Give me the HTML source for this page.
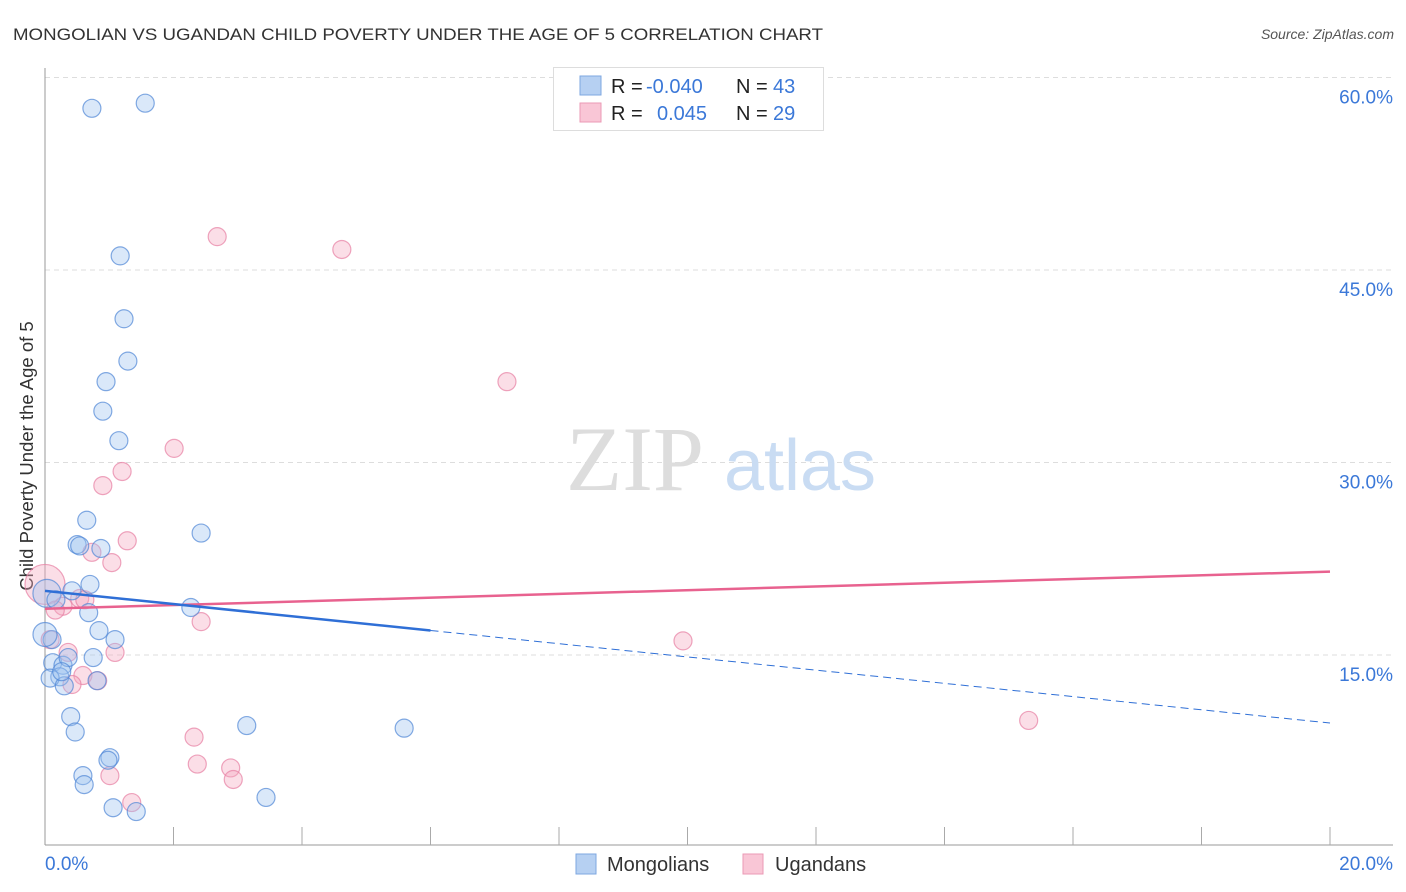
<!DOCTYPE html>
<html><head><meta charset="utf-8">
<style>
body{margin:0;background:#fff;font-family:"Liberation Sans",sans-serif;}
svg{display:block}
</style></head>
<body>
<svg id="chart" width="1406" height="892">
<text x="13" y="40" font-size="17" fill="#333" textLength="810" lengthAdjust="spacingAndGlyphs">MONGOLIAN VS UGANDAN CHILD POVERTY UNDER THE AGE OF 5 CORRELATION CHART</text>
<text x="1394" y="39" font-size="14" fill="#555" font-style="italic" text-anchor="end">Source: ZipAtlas.com</text>
<g id="grid"></g>
<text x="33" y="456" font-size="18.5" fill="#333" text-anchor="middle" transform="rotate(-90 33 456)">Child Poverty Under the Age of 5</text>
<g>
<text x="635" y="490" font-size="92" fill="#ddd" font-family="Liberation Serif,serif" text-anchor="middle">ZIP</text>
<text x="800" y="490" font-size="72" fill="#c9dcf3" text-anchor="middle">atlas</text>
</g>
<g id="marks"></g>
<g>
<rect x="553.5" y="67.5" width="270" height="63" fill="#fff" stroke="#ddd"/>
<rect x="580" y="76" width="21" height="19" fill="#b6d0f2" stroke="#7ea7e0"/>
<rect x="580" y="103" width="21" height="19" fill="#f9c6d6" stroke="#eb9ab5"/>
<text y="93" font-size="20" fill="#222"><tspan x="611">R =</tspan><tspan x="646" fill="#3b78d8">-0.040</tspan><tspan x="736">N =</tspan><tspan x="773" fill="#3b78d8">43</tspan></text>
<text y="120" font-size="20" fill="#222"><tspan x="611">R =</tspan><tspan x="657" fill="#3b78d8">0.045</tspan><tspan x="736">N =</tspan><tspan x="773" fill="#3b78d8">29</tspan></text>
</g>
<g>
<rect x="576" y="854" width="20" height="20" fill="#b6d0f2" stroke="#7ea7e0"/>
<text x="607" y="871" font-size="20" fill="#333">Mongolians</text>
<rect x="743" y="854" width="20" height="20" fill="#f9c6d6" stroke="#eb9ab5"/>
<text x="775" y="871" font-size="20" fill="#333">Ugandans</text>
</g>
</svg>
<script>
const xTicks=[0,20];
const yTicks=[15,30,45,60];
const blueX=[0.73,1.56,1.17,1.23,1.29,0.95,0.90,1.15,0.65,2.43,0.50,0.54,0.87,0.70,0.42,0.68,2.27,0.84,1.09,0.11,0.0,0.12,0.28,0.36,0.75,0.81,0.23,0.08,0.30,0.40,0.47,1.01,0.98,0.59,0.61,1.06,1.42,3.14,3.44,5.59,0.03,0.17,0.26];
const blueY=[57.6,58.0,46.1,41.2,37.9,36.3,34.0,31.7,25.5,24.5,23.6,23.5,23.3,20.5,20.0,18.3,18.7,16.9,16.2,16.2,16.6,14.4,14.2,14.8,14.8,13.0,13.3,13.2,12.6,10.2,9.0,7.0,6.8,5.6,4.9,3.1,2.8,9.5,3.9,9.3,19.8,19.3,13.7];
const pinkX=[2.68,4.62,7.19,2.01,1.20,0.90,1.28,0.73,1.04,0.0,0.28,0.54,2.43,9.93,1.09,0.36,0.59,0.82,0.42,15.31,2.32,2.37,2.89,2.93,1.01,1.35,0.16,0.08,0.62];
const pinkY=[47.6,46.6,36.3,31.1,29.3,28.2,23.9,23.0,22.2,20.5,18.8,19.4,17.6,16.1,15.2,15.2,13.4,13.0,12.7,9.9,8.6,6.5,6.2,5.3,5.6,3.5,18.5,16.2,19.3];
const blueTrend=[20.0,9.7];
const pinkTrend=[18.6,21.5];
const blueSolidEnd=6.0;

const X=v=>45+v/20*1285;
const Y=v=>847.5-v/15*192.5;
const NS='http://www.w3.org/2000/svg';
function mk(tag,attrs,parent){const e=document.createElementNS(NS,tag);for(const k in attrs)e.setAttribute(k,attrs[k]);parent.appendChild(e);return e;}
const grid=document.getElementById('grid');
const marks=document.getElementById('marks');
yTicks.forEach(t=>{
  const l=mk('line',{x1:45,x2:1393,y1:Y(t),y2:Y(t),stroke:'#ddd','stroke-dasharray':'5,4'},grid);
  
  
  const tx=mk('text',{x:1393,y:Y(t)+26,'font-size':19,fill:'#3b78d8','text-anchor':'end'},grid);
  tx.textContent=t.toFixed(1)+'%';
  
  
});
let a=mk('line',{x1:45,x2:45,y1:68,y2:845,stroke:'#999'},grid);


a=mk('line',{x1:45,x2:1393,y1:845,y2:845,stroke:'#999'},grid);


for(let i=1;i<=10;i++){
  const t=mk('line',{x1:X(i*2),x2:X(i*2),y1:827,y2:845,stroke:'#aaa'},grid);
  
  
}
xTicks.forEach((t,i)=>{
  const tx=mk('text',{x:i?1393:45,y:870,'font-size':19,fill:'#3b78d8','text-anchor':i?'end':'start'},grid);
  tx.textContent=t.toFixed(1)+'%';
  
  
});
function dots(xs,ys,fill,stroke,name,bigIdx){
  xs.forEach((x,i)=>{
    let r=9;
    if(bigIdx[i])r=bigIdx[i];
    const c=mk('circle',{cx:X(x),cy:Y(ys[i]),r:r,fill:fill,'fill-opacity':0.38,stroke:stroke,'stroke-opacity':0.7,'stroke-width':1.2},marks);
    
    
  });
}
dots(pinkX,pinkY,'#f4a9c1','#e77fa2','ugandan-point',{9:20});
dots(blueX,blueY,'#9fc2ee','#4f86d6','mongolian-point',{40:14,20:12});
let l=mk('line',{x1:X(0),y1:Y(pinkTrend[0]),x2:X(20),y2:Y(pinkTrend[1]),stroke:'#e8628f','stroke-width':2.5},marks);


const by=x=>blueTrend[0]+(blueTrend[1]-blueTrend[0])*x/20;
l=mk('line',{x1:X(0),y1:Y(blueTrend[0]),x2:X(blueSolidEnd),y2:Y(by(blueSolidEnd)),stroke:'#2f6fd6','stroke-width':2.5},marks);


l=mk('line',{x1:X(blueSolidEnd),y1:Y(by(blueSolidEnd)),x2:X(20),y2:Y(blueTrend[1]),stroke:'#2f6fd6','stroke-width':1,'stroke-dasharray':'8,5'},marks);


</script>
</body></html>
